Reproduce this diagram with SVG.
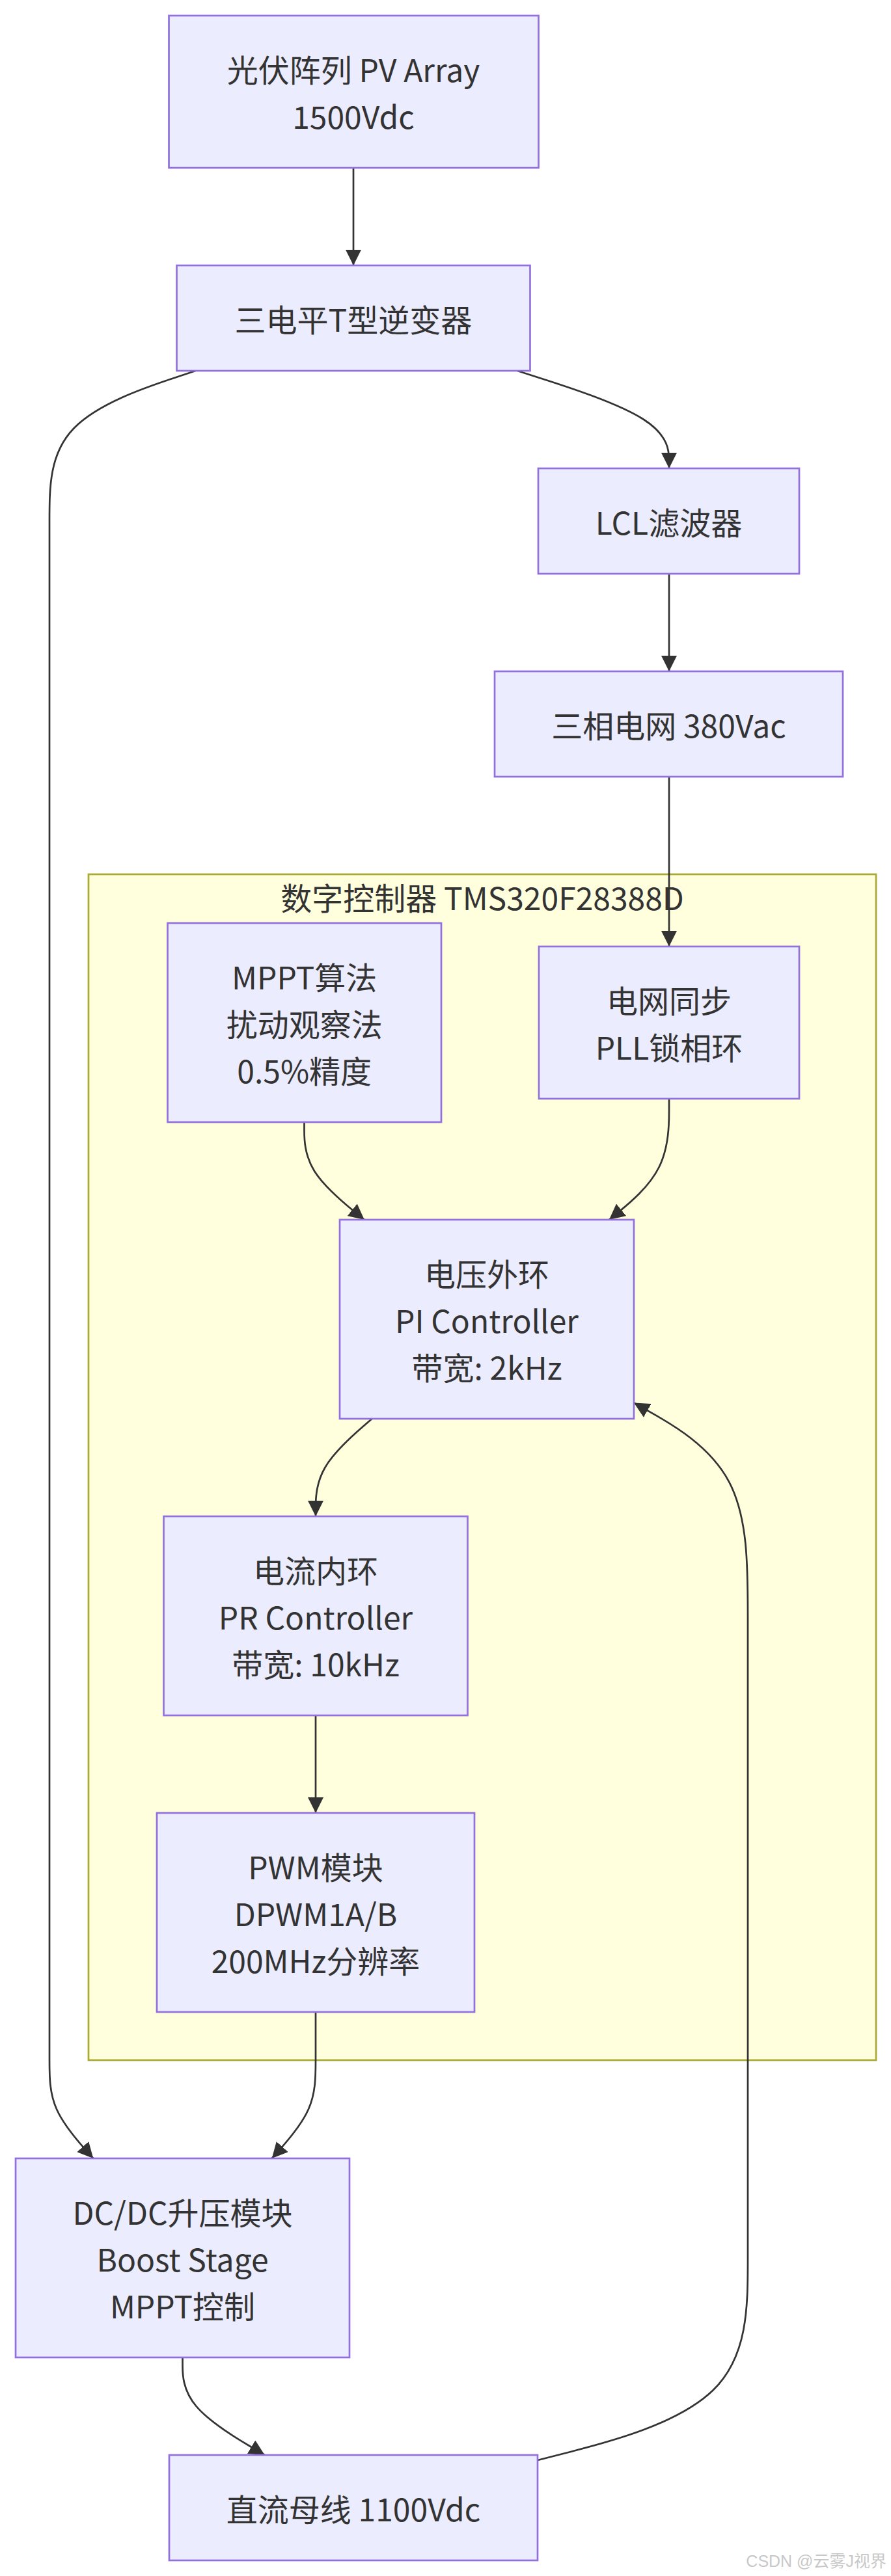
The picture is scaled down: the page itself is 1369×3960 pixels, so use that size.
<svg xmlns="http://www.w3.org/2000/svg" width="1369" height="3960" viewBox="0 0 1369 3960">
<defs>
<style>
.node rect{fill:#ECECFF;stroke:#9370DB;stroke-width:2.7}
.cluster rect{fill:#FFFFDE;stroke:#AAAA33;stroke-width:2.7}
text{font-family:"Noto Sans CJK SC","Noto Sans",sans-serif;font-size:48px;fill:#333333;text-anchor:middle;dominant-baseline:central}
.edge{fill:none;stroke:#333333;stroke-width:2.7;marker-end:url(#arrow)}
.wm{font-family:"Liberation Sans","Noto Sans CJK SC",sans-serif;font-size:25px;fill:#C8C8C8;text-anchor:end;dominant-baseline:alphabetic}
</style>
<marker id="arrow" viewBox="0 0 10 10" refX="10" refY="5" markerWidth="24" markerHeight="24" markerUnits="userSpaceOnUse" orient="auto">
<path d="M0,0 L10,5 L0,10 z" fill="#333333"/>
</marker>
</defs>
<rect width="1369" height="3960" fill="#FFFFFF"/>
<g id="cluster-controller" class="cluster">
<rect x="136" y="1344" width="1210" height="1823"/>
<text x="741" y="1378">数字控制器 TMS320F28388D</text>
</g>
<g id="edges">
<path class="edge" d="M543,258 L543,408"/>
<path class="edge" d="M795,570 L833.8,582.5 C872.7,595 950.3,620 989.2,645 C1028,670 1028,695 1028,707.5 L1028,720"/>
<path class="edge" d="M300.5,570 L263.1,582.5 C225.7,595 150.8,620 113.4,658.5 C76,697 76,749 76,801 L76,3167.7 C76,3192.3 76,3217.7 87.2,3242.8 C98.4,3268 120.9,3293 132.1,3305.5 L143.3,3318"/>
<path class="edge" d="M1028,882 L1028,1032"/>
<path class="edge" d="M1028,1194 L1028,1455"/>
<path class="edge" d="M467.5,1725 L467.5,1737.5 C467.5,1750 467.5,1775 482.9,1800 C498.3,1825 529,1850 544.4,1862.5 L559.8,1875"/>
<path class="edge" d="M1028,1689 L1028,1707.5 C1028,1726 1028,1763 1012.7,1794 C997.3,1825 966.6,1850 951.3,1862.5 L935.9,1875"/>
<path class="edge" d="M571.5,2181 L557.1,2193.5 C542.7,2206 513.8,2231 499.4,2256 C485,2281 485,2306 485,2318.5 L485,2331"/>
<path class="edge" d="M485,2637 L485,2787"/>
<path class="edge" d="M485,3093 L485,3105.3 C485,3117.7 485,3142.3 485,3167.7 C485,3192.3 485,3217.7 473.8,3242.8 C462.6,3268 440.1,3293 428.9,3305.5 L417.7,3318"/>
<path class="edge" d="M280.5,3624 L280.5,3636.5 C280.5,3649 280.5,3674 301.5,3699 C322.6,3724 364.6,3749 385.7,3761.5 L406.7,3774"/>
<path class="edge" d="M826,3782 L879.8,3768.2 C933.7,3754.3 1041.3,3726.7 1095.2,3674.8 C1149,3623 1149,3547 1149,3471 L1149,2483.7 C1149,2407.7 1149,2331.8 1119.8,2277.3 C1090.7,2222.8 1032.3,2189.7 1003.2,2173.1 L974,2156.5"/>
</g>
<g id="node-pv" class="node">
<rect x="259.5" y="24" width="568" height="234"/>
<text x="543" y="105">光伏阵列 PV Array</text>
<text x="543" y="177">1500Vdc</text>
</g>
<g id="node-inverter" class="node">
<rect x="271.5" y="408" width="543" height="162"/>
<text x="543" y="489">三电平T型逆变器</text>
</g>
<g id="node-lcl" class="node">
<rect x="827" y="720" width="401" height="162"/>
<text x="1027.5" y="801">LCL滤波器</text>
</g>
<g id="node-grid" class="node">
<rect x="760" y="1032" width="535" height="162"/>
<text x="1027.5" y="1113">三相电网 380Vac</text>
</g>
<g id="node-mppt" class="node">
<rect x="257.5" y="1419" width="420.5" height="306"/>
<text x="467.7" y="1500">MPPT算法</text>
<text x="467.7" y="1572">扰动观察法</text>
<text x="467.7" y="1644">0.5%精度</text>
</g>
<g id="node-pll" class="node">
<rect x="828" y="1455" width="400" height="234"/>
<text x="1028" y="1536">电网同步</text>
<text x="1028" y="1608">PLL锁相环</text>
</g>
<g id="node-pi" class="node">
<rect x="522" y="1875" width="452" height="306"/>
<text x="748" y="1956">电压外环</text>
<text x="748" y="2028">PI Controller</text>
<text x="748" y="2100">带宽: 2kHz</text>
</g>
<g id="node-pr" class="node">
<rect x="251.5" y="2331" width="467" height="306"/>
<text x="485" y="2412">电流内环</text>
<text x="485" y="2484">PR Controller</text>
<text x="485" y="2556">带宽: 10kHz</text>
</g>
<g id="node-pwm" class="node">
<rect x="241" y="2787" width="488" height="306"/>
<text x="485" y="2868">PWM模块</text>
<text x="485" y="2940">DPWM1A/B</text>
<text x="485" y="3012">200MHz分辨率</text>
</g>
<g id="node-dcdc" class="node">
<rect x="24" y="3318" width="513" height="306"/>
<text x="280.5" y="3399">DC/DC升压模块</text>
<text x="280.5" y="3471">Boost Stage</text>
<text x="280.5" y="3543">MPPT控制</text>
</g>
<g id="node-dcbus" class="node">
<rect x="260" y="3774" width="566" height="162"/>
<text x="543" y="3855">直流母线 1100Vdc</text>
</g>
<text class="wm" x="1362" y="3946">CSDN @云雾J视界</text>
</svg>
